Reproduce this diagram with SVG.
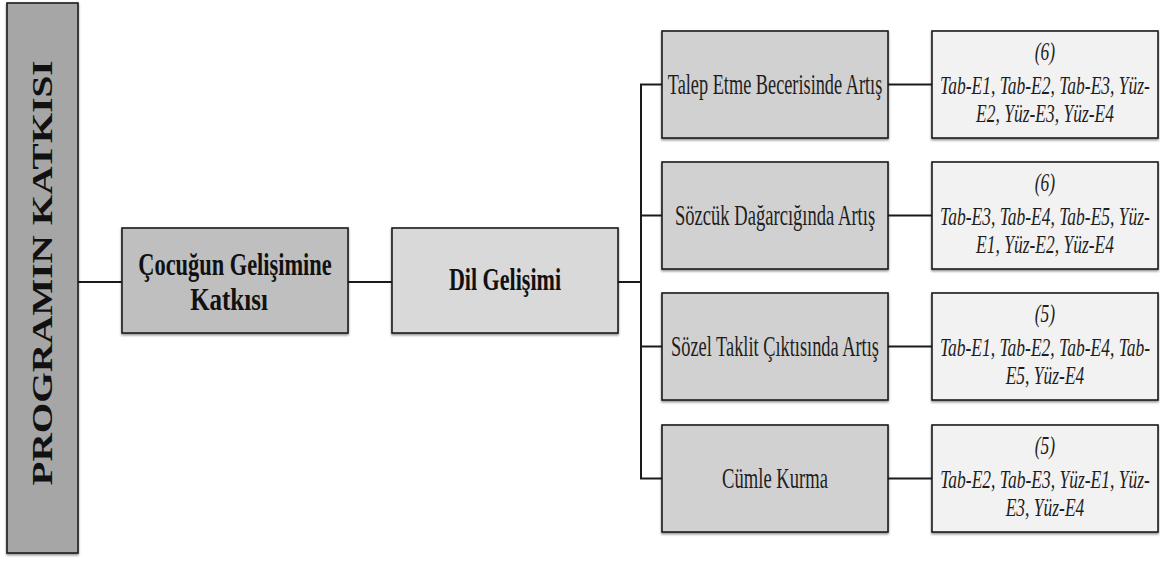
<svg xmlns="http://www.w3.org/2000/svg" width="1160" height="563" viewBox="0 0 1160 563">
<defs>
<filter id="sh" x="-10%" y="-10%" width="120%" height="120%">
<feDropShadow dx="0" dy="1.5" stdDeviation="1" flood-color="#000" flood-opacity="0.45"/>
</filter>
<linearGradient id="bevV" x1="0" y1="0" x2="0" y2="1">
<stop offset="0" stop-color="#fff" stop-opacity="0.5"/>
<stop offset="0.5" stop-color="#fff" stop-opacity="1"/>
<stop offset="1" stop-color="#fff" stop-opacity="0.5"/>
</linearGradient>
<linearGradient id="bevH" x1="0" y1="0" x2="1" y2="0">
<stop offset="0" stop-color="#fff" stop-opacity="0.5"/>
<stop offset="0.5" stop-color="#fff" stop-opacity="1"/>
<stop offset="1" stop-color="#fff" stop-opacity="0.5"/>
</linearGradient>
</defs>
<style>
.box{stroke:#1c1c1c;stroke-width:1.6;filter:url(#sh)}
.bv{stroke:url(#bevV);stroke-width:4;fill:none;stroke-linecap:round;opacity:0.85}
.bh{stroke:url(#bevH);stroke-width:3;fill:none;stroke-linecap:round;opacity:0.7}
.conn line{stroke:#1a1a1a;stroke-width:2}
.b{font-family:"Liberation Serif","Times New Roman",serif;font-weight:bold;fill:#111;text-anchor:middle}
.r{font-family:"Liberation Serif","Times New Roman",serif;font-size:30px;fill:#1e1e1e;text-anchor:middle}
.i{font-family:"Liberation Serif","Times New Roman",serif;font-style:italic;font-size:25px;fill:#1e1e1e;text-anchor:middle}
</style>
<rect width="1160" height="563" fill="#fff"/>
<g class="conn">
<line x1="78" y1="282" x2="122" y2="282"/>
<line x1="348" y1="282" x2="392" y2="282"/>
<line x1="618" y1="282" x2="641" y2="282"/>
<line x1="641" y1="84.5" x2="641" y2="478.5"/>
<line x1="640" y1="84.5" x2="662" y2="84.5"/>
<line x1="640" y1="215.5" x2="662" y2="215.5"/>
<line x1="640" y1="346.5" x2="662" y2="346.5"/>
<line x1="640" y1="478.5" x2="662" y2="478.5"/>
<line x1="888" y1="84.5" x2="932" y2="84.5"/>
<line x1="888" y1="215.5" x2="932" y2="215.5"/>
<line x1="888" y1="346.5" x2="932" y2="346.5"/>
<line x1="888" y1="478.5" x2="932" y2="478.5"/>
</g>
<g id="n-program">
<rect class="box" x="7" y="3" width="71" height="550" fill="#a6a6a6"/>
<line class="bh" x1="16" y1="10" x2="69" y2="10"/>
<line class="bh" x1="16" y1="546" x2="69" y2="546"/>
<line class="bv" x1="11.5" y1="14" x2="11.5" y2="542"/>
<line class="bv" x1="73.5" y1="14" x2="73.5" y2="542"/>
<text class="b" font-size="30" transform="translate(52,273) rotate(-90)" textLength="425" lengthAdjust="spacingAndGlyphs">PROGRAMIN KATKISI</text>
</g>
<g id="n-cocuk">
<rect class="box" x="122" y="228" width="226" height="105" fill="#bfbfbf"/>
<line class="bv" x1="127.5" y1="236" x2="127.5" y2="325"/>
<line class="bv" x1="342.5" y1="236" x2="342.5" y2="325"/>
<line class="bh" x1="131" y1="232" x2="339" y2="232"/>
<text class="b" font-size="32" transform="translate(235,275) scale(0.7,1)">Çocuğun Gelişimine</text>
<text class="b" font-size="32" transform="translate(229,310) scale(0.78,1)">Katkısı</text>
</g>
<g id="n-dil">
<rect class="box" x="392" y="228" width="226" height="105" fill="#d9d9d9"/>
<line class="bv" x1="397.5" y1="236" x2="397.5" y2="325"/>
<line class="bv" x1="612.5" y1="236" x2="612.5" y2="325"/>
<line class="bh" x1="401" y1="232" x2="609" y2="232"/>
<text class="b" font-size="32" transform="translate(505,290) scale(0.69,1)">Dil Gelişimi</text>
</g>
<g id="n-talep">
<rect class="box" x="662" y="31" width="226" height="107" fill="#d2d1d2"/>
<line class="bv" x1="667.5" y1="39" x2="667.5" y2="130"/>
<line class="bv" x1="882.5" y1="39" x2="882.5" y2="130"/>
<line class="bh" x1="671" y1="35" x2="879" y2="35"/>
<text class="r" transform="translate(775,94) scale(0.61,1)">Talep Etme Becerisinde Artış</text>
</g>
<g id="n-sozcuk">
<rect class="box" x="662" y="162" width="226" height="107" fill="#d2d1d2"/>
<line class="bv" x1="667.5" y1="170" x2="667.5" y2="261"/>
<line class="bv" x1="882.5" y1="170" x2="882.5" y2="261"/>
<line class="bh" x1="671" y1="166" x2="879" y2="166"/>
<text class="r" transform="translate(775,225) scale(0.62,1)">Sözcük Dağarcığında Artış</text>
</g>
<g id="n-sozel">
<rect class="box" x="662" y="293" width="226" height="107" fill="#d2d1d2"/>
<line class="bv" x1="667.5" y1="301" x2="667.5" y2="392"/>
<line class="bv" x1="882.5" y1="301" x2="882.5" y2="392"/>
<line class="bh" x1="671" y1="297" x2="879" y2="297"/>
<text class="r" transform="translate(775,356) scale(0.612,1)">Sözel Taklit Çıktısında Artış</text>
</g>
<g id="n-cumle">
<rect class="box" x="662" y="425" width="226" height="107" fill="#d2d1d2"/>
<line class="bv" x1="667.5" y1="433" x2="667.5" y2="524"/>
<line class="bv" x1="882.5" y1="433" x2="882.5" y2="524"/>
<line class="bh" x1="671" y1="429" x2="879" y2="429"/>
<text class="r" transform="translate(775,488) scale(0.62,1)">Cümle Kurma</text>
</g>
<g id="n-r1">
<rect class="box" x="932" y="31" width="226" height="107" fill="#f2f2f2"/>
<line class="bv" x1="937.5" y1="39" x2="937.5" y2="130"/>
<line class="bv" x1="1152.5" y1="39" x2="1152.5" y2="130"/>
<text class="i" transform="translate(1045,60) scale(0.7,1)">(6)</text>
<text class="i" transform="translate(1045,94) scale(0.7,1)">Tab-E1, Tab-E2, Tab-E3, Yüz-</text>
<text class="i" transform="translate(1045,122) scale(0.7,1)">E2, Yüz-E3, Yüz-E4</text>
</g>
<g id="n-r2">
<rect class="box" x="932" y="162" width="226" height="107" fill="#f2f2f2"/>
<line class="bv" x1="937.5" y1="170" x2="937.5" y2="261"/>
<line class="bv" x1="1152.5" y1="170" x2="1152.5" y2="261"/>
<text class="i" transform="translate(1045,191) scale(0.7,1)">(6)</text>
<text class="i" transform="translate(1045,225) scale(0.7,1)">Tab-E3, Tab-E4, Tab-E5, Yüz-</text>
<text class="i" transform="translate(1045,253) scale(0.7,1)">E1, Yüz-E2, Yüz-E4</text>
</g>
<g id="n-r3">
<rect class="box" x="932" y="293" width="226" height="107" fill="#f2f2f2"/>
<line class="bv" x1="937.5" y1="301" x2="937.5" y2="392"/>
<line class="bv" x1="1152.5" y1="301" x2="1152.5" y2="392"/>
<text class="i" transform="translate(1045,322) scale(0.7,1)">(5)</text>
<text class="i" transform="translate(1045,356) scale(0.7,1)">Tab-E1, Tab-E2, Tab-E4, Tab-</text>
<text class="i" transform="translate(1045,384) scale(0.7,1)">E5, Yüz-E4</text>
</g>
<g id="n-r4">
<rect class="box" x="932" y="425" width="226" height="107" fill="#f2f2f2"/>
<line class="bv" x1="937.5" y1="433" x2="937.5" y2="524"/>
<line class="bv" x1="1152.5" y1="433" x2="1152.5" y2="524"/>
<text class="i" transform="translate(1045,454) scale(0.7,1)">(5)</text>
<text class="i" transform="translate(1045,488) scale(0.7,1)">Tab-E2, Tab-E3, Yüz-E1, Yüz-</text>
<text class="i" transform="translate(1045,516) scale(0.7,1)">E3, Yüz-E4</text>
</g>
</svg>
